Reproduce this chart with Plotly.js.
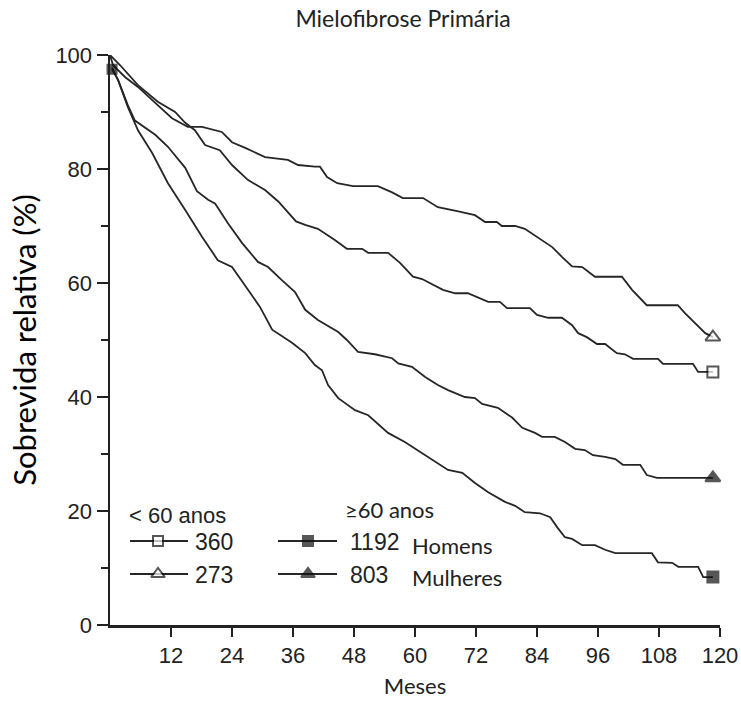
<!DOCTYPE html>
<html>
<head>
<meta charset="utf-8">
<script src="https://cdn.plot.ly/plotly-3.0.1.min.js"></script>
<style>html,body{margin:0;padding:0;background:#fff;}#chart{width:741px;height:702px;}</style>
</head>
<body>
<div id="chart"></div>
<script>
// ---- Data ----
const xTicks = [12, 24, 36, 48, 60, 72, 84, 96, 108, 120];
const yTicks = [0, 20, 40, 60, 80, 100];

// < 60 anos, n = 360 (open square)
const sq360_t = [0,2.0,5.5,9.4,12.8,14.8,16.7,18.7,21.6,24.0,27.1,30.5,33.1,36.6,38.4,40.9,44.3,46.6,49.6,50.8,54.7,57.1,59.6,61.4,65.5,67.9,70.4,72.4,74.4,76.7,78.1,82.6,84.0,86.2,88.9,90.9,92.1,93.8,95.8,97.4,99.7,101.3,102.9,107.8,108.8,114.7,115.7,118.6];
const sq360_v = [100,98.2,94.7,91.8,90.0,88.1,86.8,84.2,83.3,80.7,78.1,76.3,74.3,70.8,70.2,69.5,67.5,66.0,66.0,65.3,65.3,63.5,61.1,60.7,58.8,58.2,58.2,57.4,56.7,56.7,55.6,55.6,54.4,53.9,53.9,52.6,51.2,50.5,49.3,49.3,47.7,47.5,46.7,46.7,45.8,45.8,44.4,44.4];

// < 60 anos, n = 273 (open triangle)
const tr273_t = [0,0.6,3.0,5.5,8.9,12.2,15.3,18.1,22.0,24.0,26.6,30.5,35.0,37.0,40.3,41.3,42.7,44.7,47.8,52.7,55.5,57.6,61.6,64.5,68.3,71.8,73.8,76.1,77.1,79.7,81.6,84.0,87.0,88.9,90.9,92.9,95.4,100.7,102.7,105.6,111.7,113.1,115.1,117.1,118.6];
const tr273_v = [100,98.2,96.1,94.4,91.6,88.9,87.4,87.4,86.5,84.7,83.7,82.1,81.6,80.7,80.4,80.4,78.6,77.5,77.0,77.0,75.9,74.9,74.9,73.3,72.6,71.9,70.7,70.7,70.0,70.0,69.5,68.1,66.3,64.6,62.9,62.8,61.1,61.1,58.8,56.1,56.1,54.7,52.9,51.2,50.5];

// >= 60 anos, Homens, n = 1192 (filled square)
const hom_t = [0.4,1.6,3.5,5.5,8.3,11.4,14.8,18.1,21.2,24.0,26.6,29.5,31.9,35.8,38.4,40.3,41.7,42.9,44.9,48.2,50.8,54.7,58.0,61.4,64.5,66.5,69.3,71.8,74.4,77.7,79.7,81.6,84.6,86.6,88.1,89.5,90.9,92.9,95.4,97.4,99.4,106.6,107.8,110.6,111.8,115.7,116.7,118.6];
const hom_v = [97.5,95.6,90.9,86.8,82.8,77.5,72.8,68.1,64.0,62.8,59.5,55.8,51.8,49.5,47.7,45.6,44.7,42.1,39.8,37.7,36.8,33.7,32.1,30.2,28.4,27.2,26.7,24.9,23.3,21.6,20.9,19.8,19.6,18.9,17.0,15.4,15.1,14.0,14.0,13.2,12.6,12.6,11.0,10.9,10.2,10.2,8.4,8.4];

// >= 60 anos, Mulheres, n = 803 (filled triangle)
const mul_t = [0.4,1.6,3.5,4.9,8.9,11.4,14.8,17.1,19.3,20.7,23.2,26.0,29.1,31.1,33.8,36.4,38.4,40.9,44.9,46.6,48.8,52.1,55.5,56.7,59.4,62.0,64.5,66.5,69.8,71.8,73.2,76.3,79.1,81.1,83.6,85.0,87.5,89.5,91.5,93.4,95.0,97.4,99.4,100.9,104.3,105.6,107.6,118.6];
const mul_v = [97.8,95.6,91.2,88.5,86.0,83.9,80.2,76.1,74.6,73.9,70.5,67.0,63.7,62.8,60.5,58.4,55.3,53.5,51.4,50.0,47.9,47.5,46.8,45.9,45.3,43.5,42.1,41.2,40.0,39.8,38.8,38.1,36.4,34.6,33.7,33.0,33.0,32.1,30.9,30.7,29.8,29.5,29.1,28.1,28.1,26.3,25.8,25.8];

const legendCounts = ["360", "273", "1192", "803"];
const legendGroups = ["< 60 anos", "≥60 anos"];
const legendSex = ["Homens", "Mulheres"];

// ---- Layout helpers ----
const W = 741, H = 702;
const L = 110, R = 720, T = 55, B = 625;
const px = x => (x - L) / (R - L);
const py = y => (B - y) / (B - T);
const tx = x => (x - L) / (R - L) * 120;   // pixel -> months
const vy = y => (B - y) / (B - T) * 100;   // pixel -> %

const LINE = '#262626';
const MK = '#111';
const ink = '#222';

function endMarkers(n, size, first) {
  const s = new Array(n).fill(0);
  s[n - 1] = size;
  if (first) s[0] = first;
  return s;
}

function curve(t, v, symbol, fill, size, firstSize) {
  return {
    x: t, y: v, type: 'scatter', mode: 'lines+markers', showlegend: false,
    cliponaxis: false, hoverinfo: 'skip',
    line: {color: LINE, width: 1.8, shape: 'linear'},
    marker: {symbol: symbol, size: endMarkers(t.length, size, firstSize), color: fill ? MK : '#fff',
             line: {color: MK, width: 2}}
  };
}

function legendSample(x0, xm, x1, y, symbol, fill, size) {
  return {
    x: [tx(x0), tx(xm), tx(x1)], y: [vy(y), vy(y), vy(y)],
    type: 'scatter', mode: 'lines+markers', showlegend: false, cliponaxis: false, hoverinfo: 'skip',
    line: {color: LINE, width: 2.2},
    marker: {symbol: symbol, size: [0, size, 0], color: fill ? MK : '#fff', line: {color: MK, width: 2}}
  };
}

const traces = [
  curve(sq360_t, sq360_v, 'square', false, 11),
  curve(tr273_t, tr273_v, 'triangle-up', false, 13),
  curve(mul_t, mul_v, 'triangle-up', true, 13),
  curve(hom_t, hom_v, 'square', true, 11, 9),
  legendSample(130, 158, 188, 541, 'square', false, 10),
  legendSample(130, 158, 188, 574, 'triangle-up', false, 12),
  legendSample(278, 308, 337, 541, 'square', true, 10),
  legendSample(278, 308, 337, 574, 'triangle-up', true, 12)
];

const arial = 'Liberation Sans, Arial, sans-serif';
const cal = 'Lato, Open Sans, sans-serif';

function ann(text, x, y, size, family) {
  return {text: text, xref: 'paper', yref: 'paper', x: px(x), y: py(y), xanchor: 'left', yanchor: 'middle',
          showarrow: false, font: {family: family, size: size, color: ink}};
}

const annotations = [
  ann(legendGroups[0], 127, 515, 22, arial),
  ann(legendCounts[0], 193, 542, 23, arial),
  ann(legendCounts[1], 193, 575, 23, arial),
  ann(legendGroups[1], 343, 509, 22, cal),
  ann(legendCounts[2], 348, 542, 23, arial),
  ann(legendCounts[3], 348, 575, 23, arial),
  ann(legendSex[0], 410, 545, 22, cal),
  ann(legendSex[1], 410, 577, 22, cal)
];

const layout = {
  width: W, height: H,
  margin: {l: L, r: W - R, t: T, b: H - B, pad: 0},
  paper_bgcolor: '#fff', plot_bgcolor: '#fff',
  showlegend: false,
  title: {text: 'Mielofibrose Primária', font: {family: cal, size: 23, color: ink},
          xref: 'container', yref: 'container', x: 403 / W, y: 1 - 19 / H, xanchor: 'center', yanchor: 'middle'},
  xaxis: {
    range: [0, 120], tickvals: xTicks, ticktext: xTicks.map(String),
    ticks: 'outside', ticklen: 9, tickwidth: 2.2, tickcolor: ink,
    showline: true, linecolor: ink, linewidth: 2.5, showgrid: false, zeroline: false,
    tickfont: {family: arial, size: 22, color: ink},
    title: {text: 'Meses', font: {family: cal, size: 22, color: ink}, standoff: 12}
  },
  yaxis: {
    range: [0, 100], tickvals: yTicks, ticktext: yTicks.map(String),
    ticks: 'outside', ticklen: 11, tickwidth: 2.2, tickcolor: ink,
    minor: {dtick: 10, tick0: 0, ticks: 'outside', ticklen: 7, tickwidth: 2, tickcolor: ink},
    showline: true, linecolor: ink, linewidth: 2.5, showgrid: false, zeroline: false,
    tickfont: {family: arial, size: 22, color: ink},
    title: {text: 'Sobrevida relativa (%)', font: {family: cal, size: 31, color: '#000'}, standoff: 10}
  },
  annotations: annotations
};

Plotly.newPlot('chart', traces, layout, {displayModeBar: false, staticPlot: true});
</script>
</body>
</html>
